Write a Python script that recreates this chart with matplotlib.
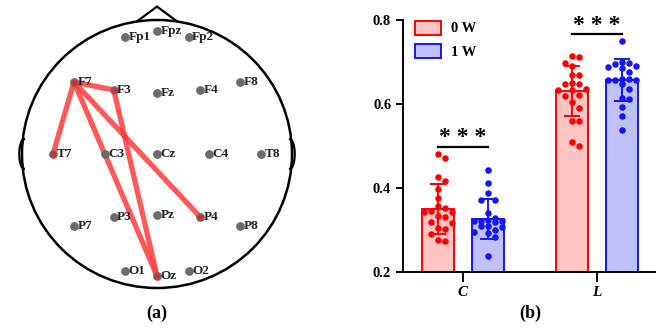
import numpy as np
import matplotlib
matplotlib.use('Agg')
import matplotlib.pyplot as plt
from matplotlib.patches import Ellipse, Patch

plt.rcParams['font.family'] = ['Liberation Serif', 'DejaVu Serif']
plt.rcParams['font.weight'] = 'bold'

# ---- panel (a): electrode montage (head frame, radius 1) ----
electrodes = ['Fp1', 'Fpz', 'Fp2', 'F7', 'F3', 'Fz', 'F4', 'F8',
              'T7', 'C3', 'Cz', 'C4', 'T8', 'P7', 'P3', 'Pz', 'P4', 'P8',
              'O1', 'Oz', 'O2']
elec_x = [-0.235, 0.0, 0.235, -0.615, -0.32, 0.0, 0.32, 0.615,
          -0.77, -0.385, 0.0, 0.385, 0.77, -0.615, -0.32, 0.0, 0.32, 0.615,
          -0.235, 0.0, 0.235]
elec_y = [0.87, 0.92, 0.87, 0.537, 0.478, 0.455, 0.478, 0.537,
          0.0, 0.0, 0.0, 0.0, 0.0, -0.537, -0.47, -0.455, -0.47, -0.537,
          -0.873, -0.91, -0.873]
links = [('F7', 'F3'), ('F7', 'T7'), ('F7', 'Oz'), ('F7', 'P4'), ('F3', 'Oz')]

# ---- panel (b): bar chart ----
groups = ['C', 'L']
conds = ['0 W', '1 W']
means_0w = [0.350, 0.631]
means_1w = [0.326, 0.657]
sd_0w = [0.059, 0.060]
sd_1w = [0.047, 0.049]
pts_c_0w = [0.481, 0.472, 0.425, 0.416, 0.397, 0.375, 0.357, 0.352, 0.345, 0.343,
            0.343, 0.332, 0.330, 0.318, 0.317, 0.303, 0.302, 0.291, 0.276, 0.274]
pts_c_1w = [0.442, 0.411, 0.387, 0.372, 0.371, 0.341, 0.327, 0.324, 0.322, 0.321,
            0.320, 0.318, 0.310, 0.308, 0.306, 0.300, 0.295, 0.292, 0.282, 0.237]
pts_l_0w = [0.713, 0.711, 0.697, 0.690, 0.669, 0.668, 0.649, 0.648, 0.647, 0.635,
            0.634, 0.632, 0.621, 0.620, 0.605, 0.590, 0.560, 0.559, 0.510, 0.500]
pts_l_1w = [0.751, 0.699, 0.697, 0.695, 0.690, 0.688, 0.686, 0.677, 0.660, 0.659,
            0.658, 0.657, 0.656, 0.648, 0.636, 0.614, 0.612, 0.593, 0.571, 0.538]
sig_labels = ['* * *', '* * *']

RED, RED_FILL = '#ff0000', '#ffc4c4'
BLUE, BLUE_FILL = '#1414ff', '#c0c0fa'

fig = plt.figure(figsize=(6.62, 3.28), dpi=100)

# ---------- (a) ----------
axa = fig.add_axes([0, 0, 0.5, 1])
axa.set_xlim(-157 / 135, 174 / 135)
axa.set_ylim(-174 / 134, 154 / 134)
axa.axis('off')
axa.add_patch(Ellipse((0, 0), 2, 2, fill=False, ec='black', lw=1.8, zorder=1))
# nose and ears
axa.plot([-0.148, 0, 0.148], [0.99, 1.1, 0.99], color='black', lw=1.6, zorder=1)
for s in (-1, 1):
    t = np.linspace(-np.pi / 2, np.pi / 2, 40)
    axa.plot(s * (0.985 + 0.035 * np.cos(t)), 0.11 * np.sin(t),
             color='black', lw=1.6, zorder=1)
pos = dict(zip(electrodes, zip(elec_x, elec_y)))
for a, b in links:
    axa.plot([pos[a][0], pos[b][0]], [pos[a][1], pos[b][1]],
             color='#ff3b3b', alpha=0.85, lw=3.8, solid_capstyle='butt', zorder=2)
axa.scatter(elec_x, elec_y, s=40, color='#6b6b6b', zorder=3, linewidths=0)
ends = sorted({e for l in links for e in l})
axa.scatter([pos[e][0] for e in ends], [pos[e][1] for e in ends], s=14,
            color='#ee2222', zorder=4, linewidths=0)
for name, x, y in zip(electrodes, elec_x, elec_y):
    axa.text(x + 0.025, y, name, fontsize=9.5, fontweight='bold', va='center',
             ha='left', color='#222222', zorder=5)
fig.text(157 / 662, 1 - 313 / 328, '(a)', fontsize=13, fontweight='bold',
         ha='center', va='center')

# ---------- (b) ----------
axb = fig.add_axes([403 / 662, 1 - 271.7 / 328, 252 / 662, 251.7 / 328])
x = np.arange(len(groups))
off, w = 0.187, 0.239
axb.bar(x - off, means_0w, width=w, color=RED_FILL, edgecolor=RED, lw=1.4,
        label=conds[0], zorder=1)
axb.bar(x + off, means_1w, width=w, color=BLUE_FILL, edgecolor=BLUE, lw=1.4,
        label=conds[1], zorder=1)


def swarm(vals, center, col):
    # simple beeswarm in pixel space, kept inside the bar
    px_x, px_y, step, d = 134.0, 419.5, 7.0, 6.8
    placed = []
    xs = []
    cand = [0, 1, -1, 2, -2]
    for v in vals:
        best, best_ov = 0, None
        for c in cand:
            cx = c * step
            ov = sum(max(0.0, d - np.hypot(cx - px, (v - py) * px_y))
                     for px, py in placed)
            if best_ov is None or ov < best_ov - 1e-9:
                best, best_ov = cx, ov
            if ov == 0:
                break
        placed.append((best, v))
        xs.append(center + best / px_x)
    axb.scatter(xs, vals, s=22, color=col, linewidths=0, zorder=2)


swarm(pts_c_0w, x[0] - off, RED)
swarm(pts_c_1w, x[0] + off, BLUE)
swarm(pts_l_0w, x[1] - off, RED)
swarm(pts_l_1w, x[1] + off, BLUE)

axb.errorbar(x - off, means_0w, yerr=sd_0w, fmt='none', ecolor=RED, elinewidth=1.4,
             capsize=6, capthick=1.4, zorder=3)
axb.errorbar(x + off, means_1w, yerr=sd_1w, fmt='none', ecolor=BLUE, elinewidth=1.4,
             capsize=6, capthick=1.4, zorder=3)

sig_y = [0.498, 0.766]
for xi, yi, lab in zip(x, sig_y, sig_labels):
    axb.plot([xi - off, xi + off], [yi, yi], color='black', lw=1.6)
    axb.text(xi, yi - 0.004, lab, ha='center', va='bottom', fontsize=17,
             fontweight='bold')

axb.set_xlim(-0.448, 1.433)
axb.set_ylim(0.2, 0.8)
axb.set_yticks([0.2, 0.4, 0.6, 0.8])
axb.set_yticklabels(['0.2', '0.4', '0.6', '0.8'])
axb.set_xticks(x)
axb.set_xticklabels(groups, fontstyle='italic', fontweight='bold', fontsize=11)
axb.tick_params(axis='y', labelsize=10.5, width=1.4, length=5)
axb.tick_params(axis='x', width=1.4, length=7)
for sp in ['top', 'right']:
    axb.spines[sp].set_visible(False)
for sp in ['left', 'bottom']:
    axb.spines[sp].set_linewidth(1.4)
for lbl in axb.get_yticklabels():
    lbl.set_fontweight('bold')

handles = [Patch(facecolor=RED_FILL, edgecolor=RED, lw=1.4),
           Patch(facecolor=BLUE_FILL, edgecolor=BLUE, lw=1.4)]
axb.legend(handles, conds, loc='upper left', bbox_to_anchor=(-0.005, 1.05),
           frameon=False, handlelength=1.8, handleheight=1.1,
           labelspacing=0.6, handletextpad=0.7, prop={'weight': 'bold', 'size': 10.5})
fig.text(530 / 662, 1 - 313 / 328, '(b)', fontsize=13, fontweight='bold',
         ha='center', va='center')

fig.savefig('out.png', dpi=100)
